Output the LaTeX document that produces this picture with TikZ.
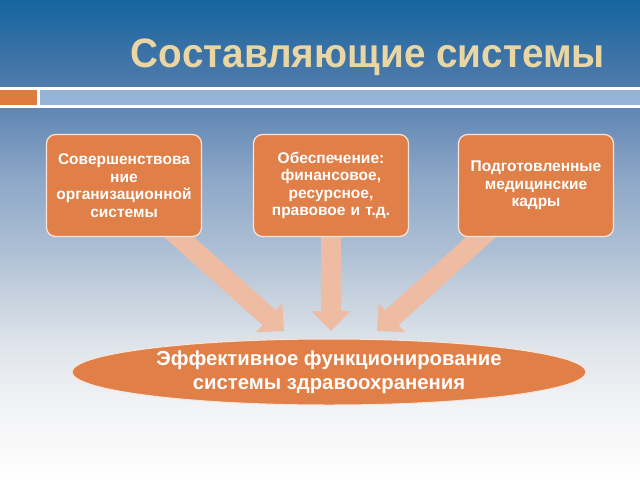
\documentclass[tikz,border=0pt]{standalone}
\usepackage{fontspec}
\setmainfont{Liberation Sans}
\usetikzlibrary{shapes.geometric,arrows.meta}
\definecolor{boxorange}{HTML}{E07F47}
\definecolor{arrowfill}{HTML}{EDBCA3}
\definecolor{titlebeige}{HTML}{E9D6A2}
\definecolor{barblue}{HTML}{95B4D5}
\definecolor{barorange}{HTML}{E07B40}
\definecolor{bg1}{HTML}{FBFBFB}
\definecolor{bg2}{HTML}{F3F4F6}
\definecolor{bg3}{HTML}{E1E6EC}
\definecolor{bg4}{HTML}{C8D3DF}
\definecolor{bg5}{HTML}{ADBFD4}
\definecolor{bg6}{HTML}{8EA8C8}
\definecolor{bg7}{HTML}{6489B5}
\definecolor{bg8}{HTML}{4D79AA}
\definecolor{bg9}{HTML}{1565A0}
\pgfdeclareverticalshading{bgshade}{100bp}{color(0bp)=(white); color(25bp)=(white); color(27bp)=(bg1); color(32.3bp)=(bg2); color(38.5bp)=(bg3); color(43.75bp)=(bg4); color(49bp)=(bg5); color(56.25bp)=(bg6); color(63bp)=(bg7); color(66.65bp)=(bg8); color(75bp)=(bg9); color(100bp)=(bg9)}
\tikzset{
  compbox/.style={draw=white!80!boxorange, line width=1.2pt, fill=boxorange, rounded corners=9pt,
    minimum width=155pt, minimum height=102pt, inner sep=0pt, text width=152pt, align=center,
    text=white, font=\bfseries\fontsize{15.5}{17.5}\selectfont},
  goalell/.style={ellipse, draw=white!80!boxorange, line width=1pt, fill=boxorange,
    minimum width=514pt, minimum height=66pt, inner sep=0pt, align=center, text=white,
    font=\bfseries\fontsize{20.3}{23.5}\selectfont},
  blockarrow/.style={draw=arrowfill, line width=20pt,
    -{Triangle[length=20pt,width=38pt]}},
  titletext/.style={text=titlebeige, font=\bfseries\fontsize{41}{48}\selectfont, inner sep=0pt}
}
\begin{document}
\begin{tikzpicture}[x=1pt,y=-1pt]
\useasboundingbox (0,0) rectangle (640,480);
\shade[shading=bgshade] (0,0) rectangle (640,480);
% title
\node[titletext, anchor=base east] (title) at (605,67) {\scalebox{0.944}[1]{Составляющие системы}};
% bar
\fill[white] (0,87) rectangle (640,107.5);
\fill[barorange] (0,90) rectangle (36.5,105);
\fill[barblue] (40,90) rectangle (640,105);
% arrows
\coordinate (s1) at (170,229);
\coordinate (t1) at (284,331);
\coordinate (s2) at (331,229);
\coordinate (t2) at (331,331);
\coordinate (s3) at (490,229);
\coordinate (t3) at (377,331);
\draw[blockarrow] (s1) -- (t1);
\draw[blockarrow] (s2) -- (t2);
\draw[blockarrow] (s3) -- (t3);
% boxes
\node[compbox] (b1) at (124,185.5) {Совершенствова\\ние\\организационной\\системы};
\node[compbox] (b2) at (331,185.5) {Обеспечение:\\финансовое,\\ресурсное,\\правовое и т.д.};
\node[compbox] (b3) at (536,185.5) {Подготовленные\\медицинские\\кадры};
% goal
\node[goalell] (goal) at (329,372) {Эффективное функционирование\\системы здравоохранения};
\end{tikzpicture}
\end{document}
